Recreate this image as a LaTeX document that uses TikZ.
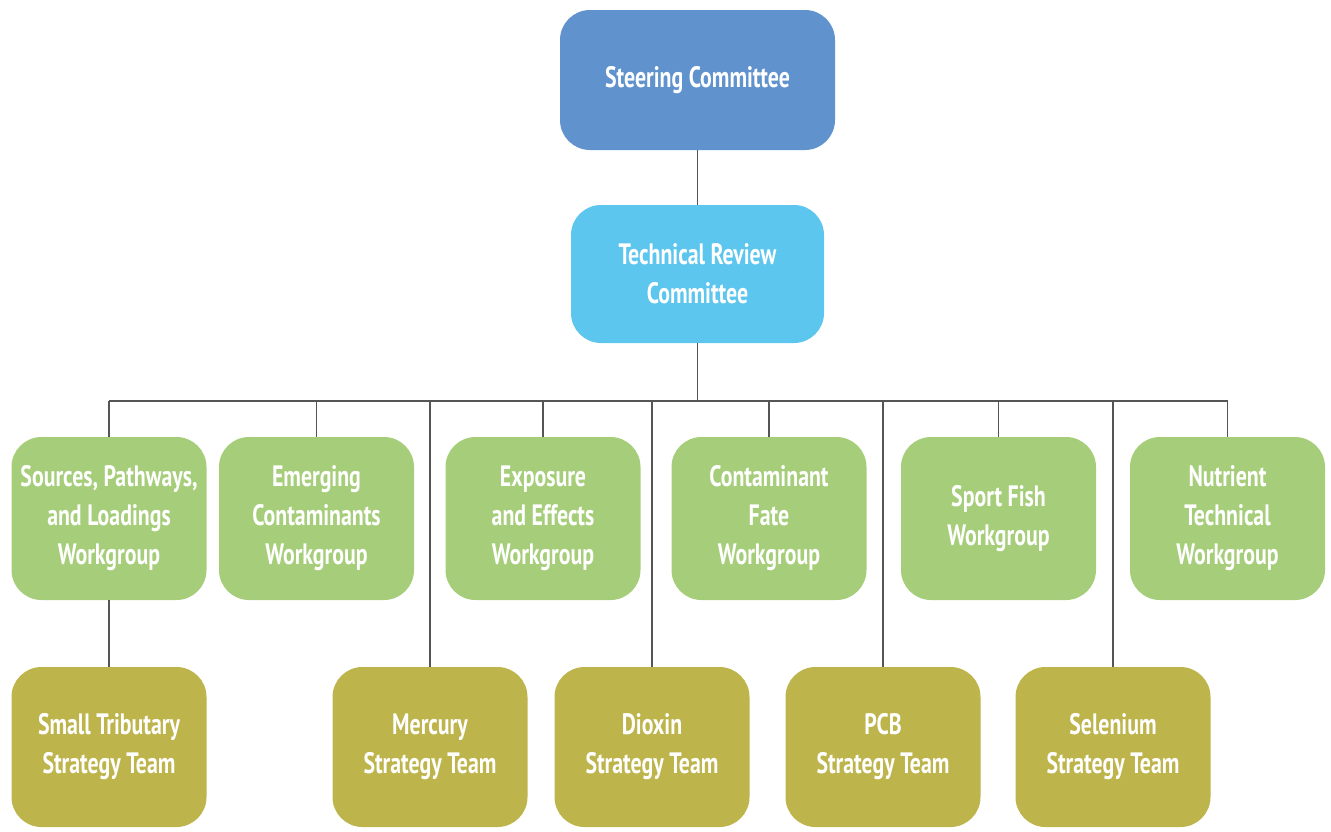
\documentclass[tikz,border=0pt]{standalone}
\usepackage{fontspec}
\setmainfont{PT Sans}[FakeStretch=0.74]
\definecolor{steerc}{RGB}{96,146,205}
\definecolor{trcc}{RGB}{92,198,238}
\definecolor{wgc}{RGB}{166,206,122}
\definecolor{stc}{RGB}{190,180,76}
\definecolor{lnc}{RGB}{85,85,85}
\begin{document}
\begin{tikzpicture}[x=1pt,y=-1pt,
  box/.style={rounded corners=30pt, text=white, align=center,
    font=\fontsize{29.5}{39}\selectfont\bfseries, inner sep=0pt},
  wgbox/.style={box, fill=wgc, minimum width=195pt, minimum height=163pt},
  stbox/.style={box, fill=stc, minimum width=195pt, minimum height=160pt},
  conn/.style={draw=lnc, line width=1.6pt}]
\useasboundingbox (0,0) rectangle (1331,831);

\node[box, fill=steerc, minimum width=275pt, minimum height=140pt] (steer) at (697.5,80) {Steering Committee};
\node[box, fill=trcc, minimum width=253pt, minimum height=138pt] (trc) at (697.5,274) {Technical Review\\Committee};

\node[wgbox] (src)  at (109,518.5) {Sources, Pathways,\\and Loadings\\Workgroup};
\node[wgbox] (emg)  at (316.5,518.5) {Emerging\\Contaminants\\Workgroup};
\node[wgbox] (exp)  at (543,518.5) {Exposure\\and Effects\\Workgroup};
\node[wgbox] (fate) at (769,518.5) {Contaminant\\Fate\\Workgroup};
\node[wgbox] (fish) at (998.5,518.5) {Sport Fish\\Workgroup};
\node[wgbox] (nut)  at (1227.5,518.5) {Nutrient\\Technical\\Workgroup};

\node[stbox] (trib) at (109,747) {Small Tributary\\Strategy Team};
\node[stbox] (hg)   at (430,747) {Mercury\\Strategy Team};
\node[stbox] (diox) at (652,747) {Dioxin\\Strategy Team};
\node[stbox] (pcb)  at (883,747) {PCB\\Strategy Team};
\node[stbox] (se)   at (1113,747) {Selenium\\Strategy Team};

\coordinate (busL) at (109,401);
\coordinate (busR) at (1227.5,401);

\draw[conn] (steer.south) -- (trc.north);
\draw[conn] (trc.south) -- (trc.south |- busL);
\draw[conn] (busL) -- (busR);
\foreach \n in {src,emg,exp,fate,fish,nut}
  \draw[conn] (\n.north |- busL) -- (\n.north);
\foreach \n in {hg,diox,pcb,se}
  \draw[conn] (\n.north |- busL) -- (\n.north);
\draw[conn] (src.south) -- (trib.north);
\end{tikzpicture}
\end{document}
